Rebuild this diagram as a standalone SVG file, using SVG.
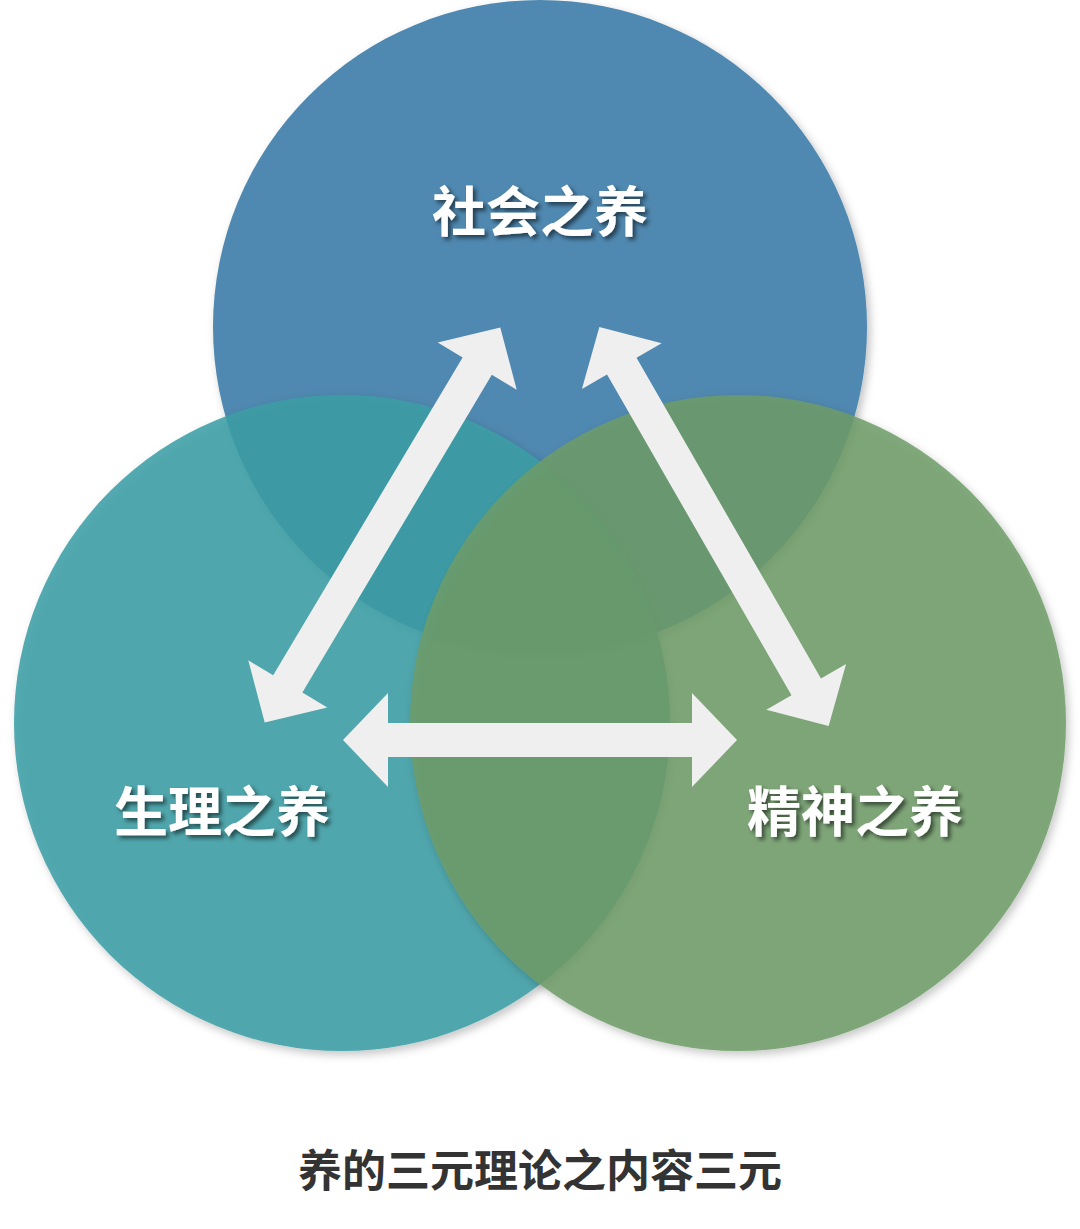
<svg xmlns="http://www.w3.org/2000/svg" width="1080" height="1229" viewBox="0 0 1080 1229">
<defs>
<filter id="sh" x="-20%" y="-20%" width="140%" height="140%"><feDropShadow dx="3" dy="4" stdDeviation="4" flood-color="#000" flood-opacity="0.25"/></filter>
<filter id="ts" x="-10%" y="-20%" width="120%" height="150%"><feDropShadow dx="3" dy="3" stdDeviation="2" flood-color="#000" flood-opacity="0.55"/></filter>
<polygon id="ad" points="-230,0 -185,-46 -185,-17 185,-17 185,-46 230,0 185,46 185,17 -185,17 -185,46"/>
</defs>
<style>
.lbl{font-family:"Liberation Serif","Noto Sans CJK SC",serif;font-weight:bold;font-size:54px;fill:#fff;text-anchor:middle;filter:url(#ts)}
.arr{fill:#efefef}
</style>
<rect width="1080" height="1229" fill="#fff"/>
<g id="social"><circle cx="540" cy="327" r="327" fill="#4f88b0" filter="url(#sh)"/></g>
<g id="body"><circle cx="342" cy="723" r="328" fill="#3c9ea5" fill-opacity="0.87" filter="url(#sh)"/></g>
<g id="mind"><circle cx="738" cy="723" r="328" fill="#6f9c68" fill-opacity="0.85" filter="url(#sh)"/></g>
<g id="connectors">
<use href="#ad" class="arr" transform="translate(382.5,525) rotate(-59.2)"/>
<use href="#ad" class="arr" transform="translate(714,526.5) rotate(60.1)"/>
<polygon class="arr" points="343,740 388,693 388,723 692,723 692,693 737,740 692,787 692,757 388,757 388,787"/>
</g>
<g id="labels">
<text class="lbl" x="540" y="232">社会之养</text>
<text class="lbl" x="222" y="832">生理之养</text>
<text class="lbl" x="855" y="832">精神之养</text>
</g>
<text x="540" y="1187" text-anchor="middle" font-family="Liberation Serif,Noto Sans CJK SC,serif" font-weight="bold" font-size="44" fill="#333">养的三元理论之内容三元</text>
</svg>
